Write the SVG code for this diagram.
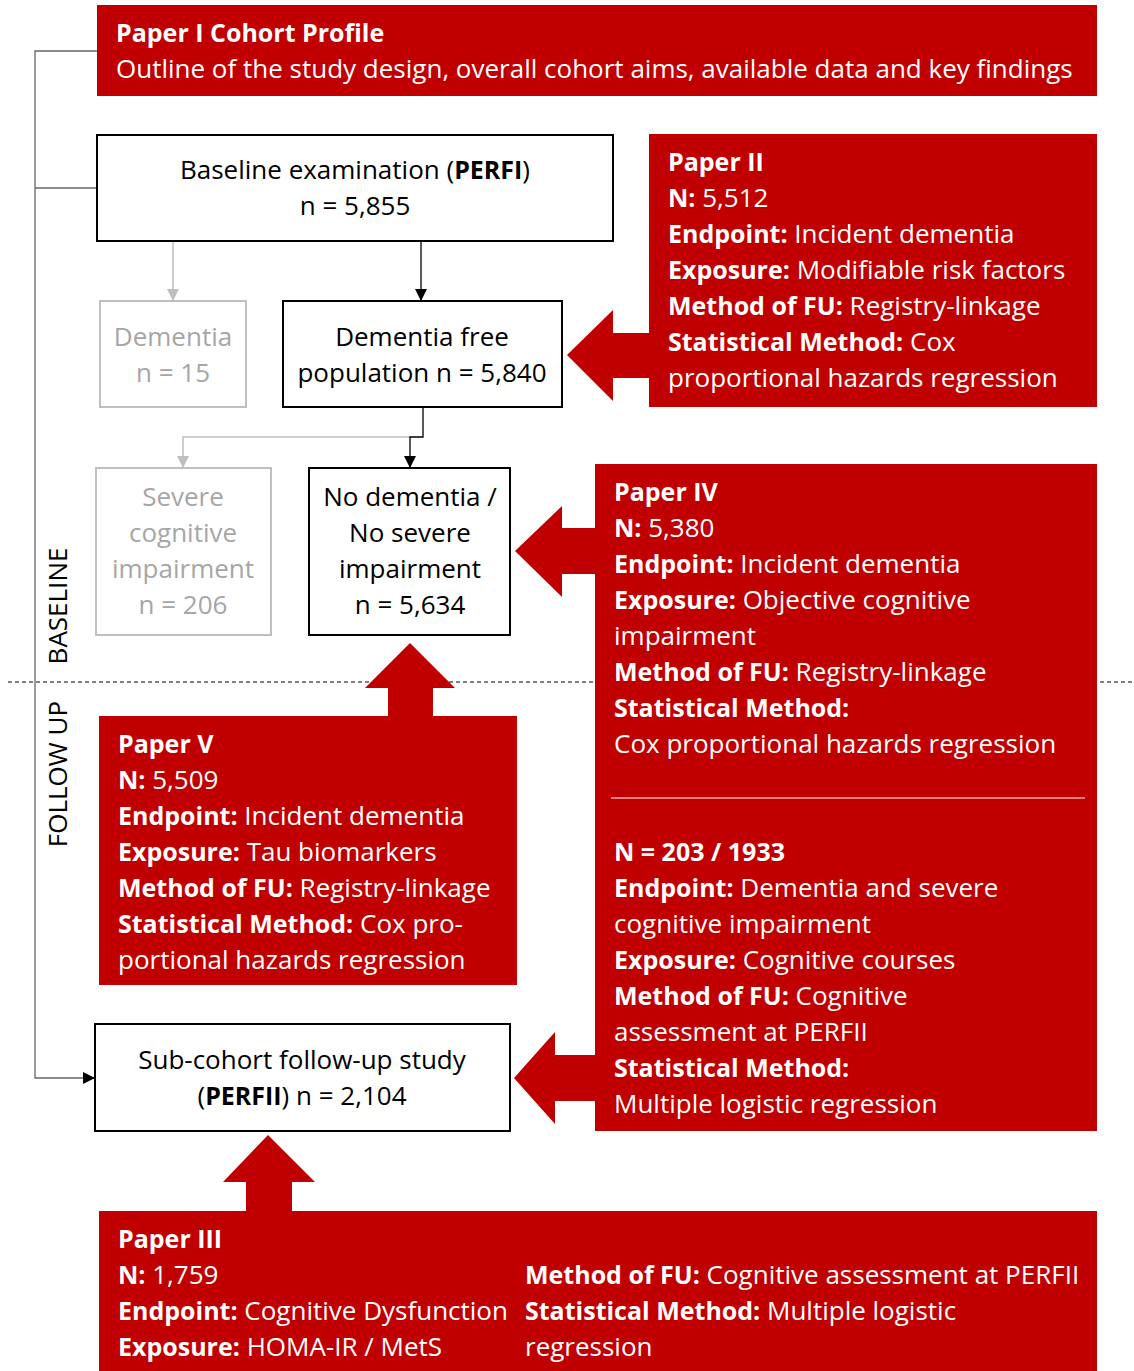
<svg xmlns="http://www.w3.org/2000/svg" width="1134" height="1371" viewBox="0 0 1134 1371">
<style>
text{font-family:"Open Sans","Liberation Sans",Arial,sans-serif;font-size:26px}
.w{fill:#fff}
.b{font-weight:bold;font-size:25px}
.k{fill:#000}
.g{fill:#a6a6a6}
.c{text-anchor:middle}
.red{fill:#c00000}
.box{fill:#fff;stroke:#000;stroke-width:2}
.gbox{fill:#fff;stroke:#bfbfbf;stroke-width:2}
.ln{fill:none;stroke:#000;stroke-width:1.3}
.gln{fill:none;stroke:#bfbfbf;stroke-width:1.5}
.side{fill:none;stroke:#666;stroke-width:1.3}
</style>
<defs>
<marker id="ah" markerWidth="12" markerHeight="12" refX="11" refY="6" orient="auto" markerUnits="userSpaceOnUse"><path d="M0,0 L12,6 L0,12 z" fill="#000"/></marker>
<marker id="gah" markerWidth="12" markerHeight="12" refX="11" refY="6" orient="auto" markerUnits="userSpaceOnUse"><path d="M0,0 L12,6 L0,12 z" fill="#bfbfbf"/></marker>
</defs>
<line x1="8" y1="682" x2="1134" y2="682" stroke="#000" stroke-width="1" stroke-dasharray="4,3"/>
<g id="connectors">
<path class="side" d="M97,51 H35 V1078 H94" marker-end="url(#ah)"/>
<path class="side" d="M97,188 H35"/>
<path class="gln" d="M173,242 V300" marker-end="url(#gah)"/>
<path class="ln" d="M421,242 V300" marker-end="url(#ah)"/>
<path class="gln" d="M410,437 H183 V467" marker-end="url(#gah)"/>
<path class="ln" d="M423,408 V437 H410 V467" marker-end="url(#ah)"/>
</g>
<g id="labels">
<text class="k" transform="translate(67,606) rotate(-90)" text-anchor="middle">BASELINE</text>
<text class="k" transform="translate(67,774) rotate(-90)" text-anchor="middle">FOLLOW UP</text>
</g>
<g id="paper1">
<rect class="red" x="97" y="5" width="1000" height="91"/>
<text class="w b" x="116" y="42">Paper I Cohort Profile</text>
<text class="w" x="116" y="78">Outline of the study design, overall cohort aims, available data and key findings</text>
</g>
<g id="baseline">
<rect class="box" x="97" y="135" width="516" height="106"/>
<text class="k c" x="355" y="179">Baseline examination (<tspan class="b">PERFI</tspan>)</text>
<text class="k c" x="355" y="215">n = 5,855</text>
</g>
<g id="dementia">
<rect class="gbox" x="100" y="301" width="146" height="106"/>
<text class="g c" x="173" y="346">Dementia</text>
<text class="g c" x="173" y="382">n = 15</text>
</g>
<g id="dementia-free">
<rect class="box" x="283" y="301" width="279" height="106"/>
<text class="k c" x="422" y="346">Dementia free</text>
<text class="k c" x="422" y="382">population n = 5,840</text>
</g>
<g id="severe">
<rect class="gbox" x="96" y="468" width="175" height="167"/>
<text class="g c" x="183" y="506">Severe</text>
<text class="g c" x="183" y="542">cognitive</text>
<text class="g c" x="183" y="578">impairment</text>
<text class="g c" x="183" y="614">n = 206</text>
</g>
<g id="no-dementia">
<rect class="box" x="309" y="468" width="201" height="167"/>
<text class="k c" x="410" y="506">No dementia /</text>
<text class="k c" x="410" y="542">No severe</text>
<text class="k c" x="410" y="578">impairment</text>
<text class="k c" x="410" y="614">n = 5,634</text>
</g>
<g id="subcohort">
<rect class="box" x="95" y="1024" width="415" height="107"/>
<text class="k c" x="302" y="1069">Sub-cohort follow-up study</text>
<text class="k c" x="302" y="1105">(<tspan class="b">PERFII</tspan>) n = 2,104</text>
</g>
<g id="paper2">
<rect class="red" x="649" y="134" width="448" height="273"/>
<polygon class="red" points="650,333 613,333 613,310 567,355 613,401 613,378 650,378"/>
<text class="w b" x="668" y="171">Paper II</text>
<text class="w" x="668" y="207"><tspan class="b">N:</tspan> 5,512</text>
<text class="w" x="668" y="243"><tspan class="b">Endpoint:</tspan> Incident dementia</text>
<text class="w" x="668" y="279"><tspan class="b">Exposure:</tspan> Modifiable risk factors</text>
<text class="w" x="668" y="315"><tspan class="b">Method of FU:</tspan> Registry-linkage</text>
<text class="w" x="668" y="351"><tspan class="b">Statistical Method:</tspan> Cox</text>
<text class="w" x="668" y="387">proportional hazards regression</text>
</g>
<g id="paper4">
<rect class="red" x="595" y="464" width="502" height="667"/>
<polygon class="red" points="596,528 562,528 562,506 515,551 562,597 562,574 596,574"/>
<polygon class="red" points="596,1055 555,1055 555,1032 514,1078 555,1124 555,1101 596,1101"/>
<text class="w b" x="614" y="501">Paper IV</text>
<text class="w" x="614" y="537"><tspan class="b">N:</tspan> 5,380</text>
<text class="w" x="614" y="573"><tspan class="b">Endpoint:</tspan> Incident dementia</text>
<text class="w" x="614" y="609"><tspan class="b">Exposure:</tspan> Objective cognitive</text>
<text class="w" x="614" y="645">impairment</text>
<text class="w" x="614" y="681"><tspan class="b">Method of FU:</tspan> Registry-linkage</text>
<text class="w b" x="614" y="717">Statistical Method:</text>
<text class="w" x="614" y="753">Cox proportional hazards regression</text>
<line x1="611" y1="798" x2="1085" y2="798" stroke="#fff" stroke-width="1"/>
<text class="w b" x="614" y="861">N = 203 / 1933</text>
<text class="w" x="614" y="897"><tspan class="b">Endpoint:</tspan> Dementia and severe</text>
<text class="w" x="614" y="933">cognitive impairment</text>
<text class="w" x="614" y="969"><tspan class="b">Exposure:</tspan> Cognitive courses</text>
<text class="w" x="614" y="1005"><tspan class="b">Method of FU:</tspan> Cognitive</text>
<text class="w" x="614" y="1041">assessment at PERFII</text>
<text class="w b" x="614" y="1077">Statistical Method:</text>
<text class="w" x="614" y="1113">Multiple logistic regression</text>
</g>
<g id="paper5">
<rect class="red" x="99" y="716" width="418" height="269"/>
<polygon class="red" points="388,717 388,688 365,688 410,643 455,688 433,688 433,717"/>
<text class="w b" x="118" y="753">Paper V</text>
<text class="w" x="118" y="789"><tspan class="b">N:</tspan> 5,509</text>
<text class="w" x="118" y="825"><tspan class="b">Endpoint:</tspan> Incident dementia</text>
<text class="w" x="118" y="861"><tspan class="b">Exposure:</tspan> Tau biomarkers</text>
<text class="w" x="118" y="897"><tspan class="b">Method of FU:</tspan> Registry-linkage</text>
<text class="w" x="118" y="933"><tspan class="b">Statistical Method:</tspan> Cox pro-</text>
<text class="w" x="118" y="969">portional hazards regression</text>
</g>
<g id="paper3">
<rect class="red" x="99" y="1211" width="998" height="160"/>
<polygon class="red" points="246,1212 246,1182 223,1182 268,1135 315,1182 292,1182 292,1212"/>
<text class="w b" x="118" y="1248">Paper III</text>
<text class="w" x="118" y="1284"><tspan class="b">N:</tspan> 1,759</text>
<text class="w" x="118" y="1320"><tspan class="b">Endpoint:</tspan> Cognitive Dysfunction</text>
<text class="w" x="118" y="1356"><tspan class="b">Exposure:</tspan> HOMA-IR / MetS</text>
<text class="w" x="525" y="1284"><tspan class="b">Method of FU:</tspan> Cognitive assessment at PERFII</text>
<text class="w" x="525" y="1320"><tspan class="b">Statistical Method:</tspan> Multiple logistic</text>
<text class="w" x="525" y="1356">regression</text>
</g>
</svg>
